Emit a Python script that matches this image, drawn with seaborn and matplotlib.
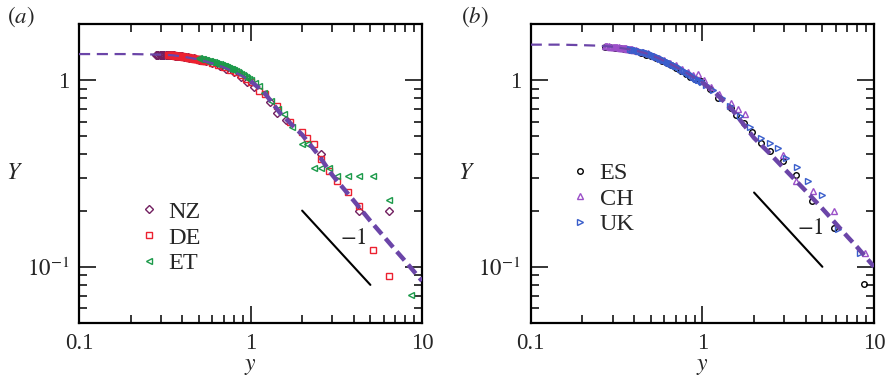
import matplotlib
matplotlib.use("Agg")
import matplotlib.pyplot as plt
import matplotlib.ticker as mticker
import seaborn as sns
import pandas as pd

# ---- panel (a) data ----
curve_a_y = [0.1, 0.15, 0.2, 0.25, 0.3, 0.35, 0.4, 0.5, 0.6, 0.7, 0.8, 0.9, 1.0,
             1.2, 1.5, 2.0, 2.5, 3.0, 4.0, 5.0, 6.0, 7.0, 8.0, 10.0]
curve_a_Y = [1.38, 1.38, 1.38, 1.375, 1.37, 1.36, 1.34, 1.29, 1.23, 1.17, 1.11, 1.05, 0.99,
             0.86, 0.66, 0.51, 0.395, 0.31, 0.226, 0.176, 0.145, 0.123, 0.107, 0.084]

nz_y = [0.280, 0.285, 0.290, 0.295, 0.300, 0.305, 0.310, 0.315, 0.320, 0.325, 0.330, 0.335,
        0.340, 0.345, 0.350, 0.355, 0.360, 0.365, 0.370, 0.375, 0.380, 0.385, 0.390, 0.395,
        0.400, 0.410, 0.420, 0.430, 0.440, 0.450, 0.47, 0.50, 0.55, 0.60, 0.66, 0.72, 0.80,
        0.88, 0.96, 1.05, 1.30, 1.42, 1.60, 2.57, 4.30, 6.44]
nz_Y = [1.372, 1.372, 1.371, 1.371, 1.370, 1.369, 1.368, 1.367, 1.366, 1.365, 1.364, 1.363,
        1.362, 1.361, 1.360, 1.358, 1.356, 1.354, 1.352, 1.350, 1.348, 1.346, 1.344, 1.342,
        1.340, 1.335, 1.330, 1.325, 1.320, 1.315, 1.31, 1.29, 1.26, 1.23, 1.19, 1.15, 1.10,
        1.04, 0.98, 0.92, 0.766, 0.67, 0.61, 0.404, 0.198, 0.198]

de_y = [0.330, 0.335, 0.340, 0.345, 0.350, 0.355, 0.360, 0.365, 0.370, 0.375, 0.380, 0.385,
        0.390, 0.395, 0.400, 0.405, 0.410, 0.415, 0.420, 0.425, 0.430, 0.435, 0.440, 0.445,
        0.450, 0.455, 0.460, 0.465, 0.470, 0.475, 0.480, 0.485, 0.490, 0.495, 0.500, 0.510,
        0.520, 0.530, 0.540, 0.550, 0.60, 0.65, 0.70, 0.76, 0.82, 0.88, 0.94, 1.00, 1.12,
        1.22, 1.43, 1.71, 1.99, 2.14, 2.35, 2.57, 2.87, 3.21, 3.72, 4.30, 5.19, 6.44]
de_Y = [1.364, 1.363, 1.362, 1.361, 1.360, 1.358, 1.356, 1.354, 1.352, 1.350, 1.348, 1.346,
        1.344, 1.342, 1.340, 1.337, 1.335, 1.332, 1.330, 1.327, 1.325, 1.322, 1.320, 1.317,
        1.315, 1.312, 1.310, 1.307, 1.305, 1.302, 1.300, 1.297, 1.295, 1.292, 1.290, 1.284,
        1.278, 1.272, 1.266, 1.260, 1.23, 1.20, 1.17, 1.13, 1.10, 1.06, 1.02, 0.98, 0.873,
        0.84, 0.726, 0.60, 0.527, 0.492, 0.453, 0.38, 0.326, 0.287, 0.252, 0.212, 0.123, 0.089]

et_y = [0.50, 0.51, 0.52, 0.53, 0.54, 0.55, 0.56, 0.57, 0.58, 0.59, 0.60, 0.61, 0.62, 0.63,
        0.64, 0.65, 0.66, 0.67, 0.68, 0.69, 0.70, 0.71, 0.72, 0.73, 0.74, 0.75, 0.76, 0.77,
        0.78, 0.79, 0.80, 0.82, 0.84, 0.86, 0.88, 0.90, 0.92, 0.94, 0.96, 0.98, 1.00, 1.06,
        1.12, 1.20, 1.32, 1.45, 1.57, 1.75, 2.00, 2.14, 2.35, 2.57, 2.87, 3.21, 3.72, 4.30,
        5.19, 6.44, 8.66]
et_Y = [1.310, 1.304, 1.298, 1.292, 1.286, 1.280, 1.274, 1.268, 1.262, 1.256, 1.250, 1.244,
        1.238, 1.232, 1.226, 1.220, 1.214, 1.208, 1.202, 1.196, 1.190, 1.184, 1.178, 1.172,
        1.166, 1.160, 1.154, 1.148, 1.142, 1.136, 1.130, 1.118, 1.106, 1.094, 1.082, 1.070,
        1.056, 1.042, 1.028, 1.014, 1.000, 0.96, 0.93, 0.856, 0.77, 0.70, 0.655, 0.563,
        0.453, 0.453, 0.34, 0.34, 0.34, 0.307, 0.307, 0.307, 0.307, 0.228, 0.0706]

# ---- panel (b) data ----
curve_b_y = [0.1, 0.15, 0.2, 0.25, 0.3, 0.4, 0.5, 0.6, 0.7, 0.8, 0.9, 1.0, 1.2, 1.5,
             2.0, 2.5, 3.0, 4.0, 5.0, 6.0, 7.0, 8.0, 10.0]
curve_b_Y = [1.55, 1.55, 1.54, 1.53, 1.51, 1.45, 1.37, 1.27, 1.18, 1.10, 1.03, 0.97, 0.85, 0.69,
             0.49, 0.40, 0.335, 0.255, 0.205, 0.17, 0.145, 0.127, 0.100]

es_y = [0.27, 0.29, 0.31, 0.33, 0.35, 0.38, 0.41, 0.44, 0.47, 0.50, 0.54, 0.58, 0.62, 0.66,
        0.70, 0.75, 0.80, 0.85, 0.90, 0.98, 1.10, 1.24, 1.46, 1.57, 1.74, 1.94, 2.18, 2.49,
        2.93, 3.52, 4.37, 5.83, 8.74]
es_Y = [1.51, 1.50, 1.49, 1.48, 1.47, 1.45, 1.43, 1.40, 1.37, 1.35, 1.31, 1.27, 1.24, 1.20,
        1.16, 1.12, 1.08, 1.04, 1.01, 0.99, 0.892, 0.80, 0.706, 0.65, 0.592, 0.53, 0.458, 0.415,
        0.367, 0.31, 0.226, 0.161, 0.081]

ch_y = [0.270, 0.275, 0.280, 0.285, 0.290, 0.295, 0.300, 0.305, 0.310, 0.315, 0.320, 0.325,
        0.330, 0.335, 0.340, 0.345, 0.350, 0.355, 0.360, 0.365, 0.370, 0.375, 0.380, 0.385,
        0.390, 0.395, 0.400, 0.410, 0.420, 0.45, 0.48, 0.52, 0.56, 0.60, 0.65, 0.70, 0.76,
        0.82, 0.88, 0.94, 1.02, 1.12, 1.25, 1.47, 1.62, 1.76, 2.94, 3.52, 4.42, 5.85, 8.83]
ch_Y = [1.525, 1.523, 1.520, 1.518, 1.515, 1.513, 1.510, 1.508, 1.505, 1.503, 1.500, 1.498,
        1.495, 1.493, 1.490, 1.488, 1.485, 1.482, 1.479, 1.476, 1.473, 1.470, 1.467, 1.464,
        1.461, 1.458, 1.455, 1.448, 1.440, 1.42, 1.395, 1.355, 1.32, 1.28, 1.24, 1.20, 1.15,
        1.11, 1.07, 1.08, 1.00, 0.92, 0.84, 0.757, 0.705, 0.661, 0.396, 0.289, 0.254, 0.20,
        0.118]

uk_y = [0.38, 0.39, 0.40, 0.41, 0.42, 0.43, 0.44, 0.45, 0.46, 0.47, 0.48, 0.49, 0.50, 0.51,
        0.52, 0.53, 0.54, 0.55, 0.56, 0.57, 0.58, 0.59, 0.60, 0.61, 0.62, 0.63, 0.64, 0.65,
        0.66, 0.67, 0.68, 0.69, 0.70, 0.72, 0.74, 0.76, 0.78, 0.80, 0.82, 0.84, 0.86, 0.88,
        0.90, 0.92, 0.94, 0.96, 0.98, 1.00, 1.05, 1.15, 1.30, 1.45, 1.65, 1.90, 2.20, 2.46,
        2.75, 3.08, 3.57, 4.12, 5.00, 6.16, 8.31]
uk_Y = [1.465, 1.458, 1.452, 1.445, 1.438, 1.430, 1.423, 1.415, 1.407, 1.399, 1.391, 1.383,
        1.375, 1.365, 1.355, 1.345, 1.335, 1.325, 1.315, 1.305, 1.295, 1.285, 1.276, 1.267,
        1.258, 1.249, 1.240, 1.231, 1.222, 1.213, 1.204, 1.195, 1.186, 1.170, 1.153, 1.137,
        1.121, 1.105, 1.090, 1.075, 1.060, 1.046, 1.032, 1.020, 1.008, 0.996, 0.985, 0.974,
        0.945, 0.885, 0.80, 0.73, 0.645, 0.56, 0.49, 0.458, 0.431, 0.384, 0.344, 0.29, 0.242,
        0.159, 0.119]

slope_a_y = [2.0, 5.0]
slope_a_Y = [0.2, 0.08]
slope_b_y = [2.0, 5.0]
slope_b_Y = [0.25, 0.1]

CURVE = "#6b45a8"
FS = 16.5

sns.set_style("ticks")
plt.rcParams["font.family"] = ["Liberation Serif", "DejaVu Serif"]
plt.rcParams["mathtext.fontset"] = "stix"

fig = plt.figure(figsize=(8.89, 3.82), dpi=100)
ax_a = fig.add_axes([0.0889, 0.1545, 0.3858, 0.7827])
ax_b = fig.add_axes([0.597, 0.1545, 0.3862, 0.7827])


def scatter(ax, xs, ys, marker, color, label, ms=4.5):
    df = pd.DataFrame({"y": xs, "Y": ys})
    sns.lineplot(data=df, x="y", y="Y", ax=ax, estimator=None, sort=False,
                 linestyle="", marker=marker, markersize=ms, mfc="none", mec=color,
                 mew=1.0, color=color, label=label, zorder=3)


def curve(ax, xs, ys):
    df = pd.DataFrame({"y": xs, "Y": ys})
    thin = df[df["y"] <= 1.0]
    thick = df[df["y"] >= 1.0]
    sns.lineplot(data=thin, x="y", y="Y", ax=ax, estimator=None, sort=False,
                 color=CURVE, lw=1.6, linestyle=(0, (5, 3)), zorder=4)
    sns.lineplot(data=thick, x="y", y="Y", ax=ax, estimator=None, sort=False,
                 color=CURVE, lw=3.2, linestyle=(0, (2.6, 1.3)), zorder=4)


scatter(ax_a, nz_y, nz_Y, "D", "#722060", "NZ", ms=4)
scatter(ax_a, de_y, de_Y, "s", "#ec2130", "DE", ms=4)
scatter(ax_a, et_y, et_Y, "<", "#1c9a4a", "ET", ms=5)
curve(ax_a, curve_a_y, curve_a_Y)
ax_a.plot(slope_a_y, slope_a_Y, color="black", lw=1.5)
ax_a.text(4.0, 0.142, r"$-1$", fontsize=FS, ha="center", va="center")

scatter(ax_b, es_y, es_Y, "o", "black", "ES", ms=4)
scatter(ax_b, ch_y, ch_Y, "^", "#9b50c8", "CH", ms=4.5)
scatter(ax_b, uk_y, uk_Y, ">", "#3a5ecb", "UK", ms=4.5)
curve(ax_b, curve_b_y, curve_b_Y)
ax_b.plot(slope_b_y, slope_b_Y, color="black", lw=1.5)
ax_b.text(4.24, 0.161, r"$-1$", fontsize=FS, ha="center", va="center")

for ax, lx, ly in [(ax_a, 0.169, 0.408), (ax_b, 0.109, 0.538)]:
    ax.set_xscale("log")
    ax.set_yscale("log")
    ax.set_xlim(0.1, 10)
    ax.set_ylim(0.05, 2.0)
    ax.set_xticks([0.1, 1, 10], ["0.1", "1", "10"])
    ax.set_yticks([0.1, 1], [r"$10^{-1}$", "1"])
    ax.xaxis.set_minor_formatter(mticker.NullFormatter())
    ax.yaxis.set_minor_formatter(mticker.NullFormatter())
    ax.tick_params(which="both", direction="in", top=True, right=True,
                   color="black", labelsize=FS)
    ax.tick_params(which="major", length=12, width=1.1, pad=7)
    ax.tick_params(which="minor", length=6, width=1.1)
    for s in ax.spines.values():
        s.set_linewidth(1.6)
        s.set_color("black")
    ax.set_xlabel(r"$y$", fontsize=FS + 0.5, va="center")
    ax.set_ylabel(r"$Y$", fontsize=FS + 0.5, rotation=0, ha="center", va="center")
    ax.xaxis.set_label_coords(0.5, -0.147)
    ax.yaxis.set_label_coords(-0.187, 0.5)
    ax.legend(loc="upper left", bbox_to_anchor=(lx, ly), frameon=False, fontsize=FS + 1,
              handlelength=1.0, handletextpad=0.3, borderpad=0, borderaxespad=0,
              labelspacing=0.15, numpoints=1)

fig.text(0.008, 0.955, r"$(a)$", fontsize=FS, ha="left", va="center")
fig.text(0.519, 0.955, r"$(b)$", fontsize=FS, ha="left", va="center")

fig.savefig("out.png", dpi=100)
